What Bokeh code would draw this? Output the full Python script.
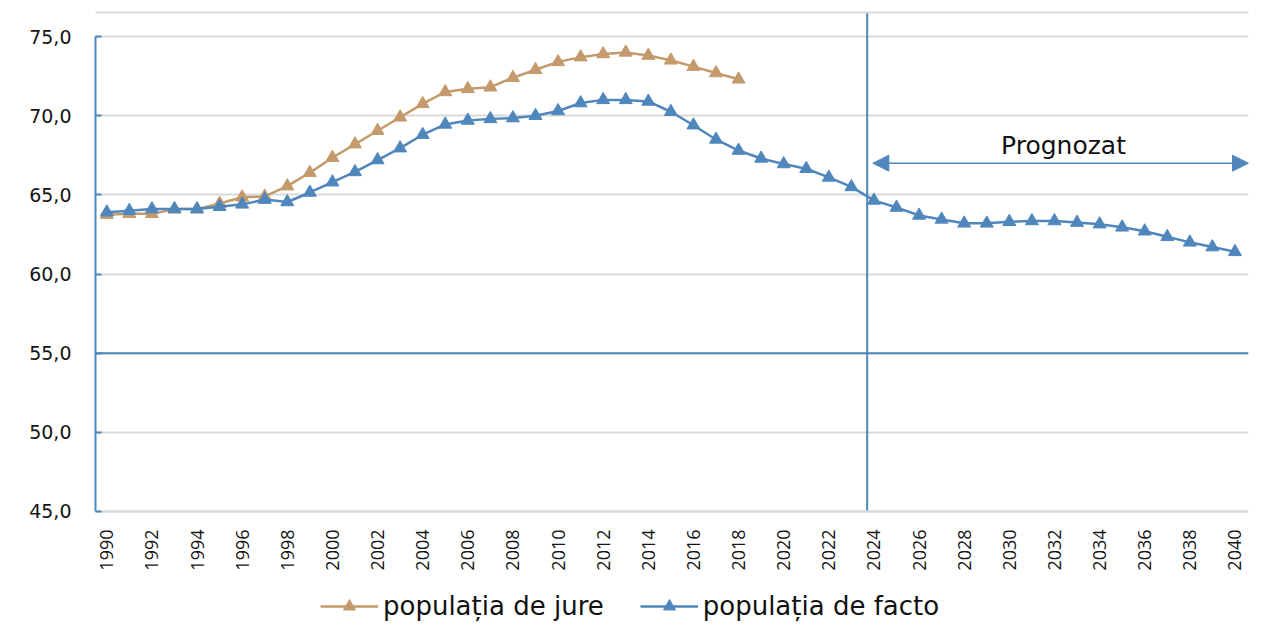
import math
from bokeh.plotting import figure
from bokeh.models import Legend, LegendItem, Span, Arrow, NormalHead, FixedTicker, Label, LinearAxis
from bokeh.embed import file_html
from bokeh.resources import INLINE

# ---- data ----
years_jure = list(range(1990, 2019))
jure = [63.75, 63.8, 63.8, 64.1, 64.1, 64.45, 64.85, 64.9, 65.55, 66.4,
        67.35, 68.2, 69.05, 69.9, 70.75, 71.5, 71.7, 71.8, 72.4, 72.9,
        73.4, 73.7, 73.9, 74.0, 73.8, 73.5, 73.1, 72.7, 72.3]

years_facto = list(range(1990, 2041))
facto = [63.9, 64.0, 64.1, 64.1, 64.1, 64.25, 64.4, 64.7, 64.55, 65.15,
         65.8, 66.45, 67.2, 67.95, 68.8, 69.45, 69.7, 69.8, 69.85, 70.0,
         70.3, 70.8, 71.0, 71.0, 70.9, 70.25, 69.4, 68.5, 67.8, 67.3,
         66.95, 66.65, 66.1, 65.5, 64.65, 64.2, 63.7, 63.45, 63.2, 63.2,
         63.3, 63.35, 63.35, 63.25, 63.15, 62.95, 62.7, 62.35, 62.0, 61.7,
         61.4]

y_ticks = [45, 50, 55, 60, 65, 70, 75]
x_ticks = list(range(1990, 2041, 2))
series_names = ["populația de jure", "populația de facto"]
forecast_label = "Prognozat"

BLUE = "#4F87BD"
TAN = "#C49A6C"
GRID = "#D9D9D9"

Y_MIN, Y_MAX = 45, 75

p = figure(width=1260, height=633, x_range=(1989.5, 2040.6), y_range=(37.29, 76.52),
           output_backend="svg", toolbar_location=None,
           min_border_left=95, min_border_top=12, min_border_right=12, min_border_bottom=0)
p.outline_line_color = None
p.background_fill_color = "white"
p.border_fill_color = "white"

# y axis
p.yaxis.ticker = FixedTicker(ticks=y_ticks)
p.yaxis.bounds = (Y_MIN, Y_MAX)
p.yaxis.axis_line_color = BLUE
p.yaxis.axis_line_width = 2
p.yaxis.major_tick_in = 6
p.yaxis.major_tick_out = 0
p.yaxis.major_tick_line_color = BLUE
p.yaxis.major_tick_line_width = 2
p.yaxis.minor_tick_line_color = None
p.yaxis.major_label_standoff = 24
p.yaxis.major_label_text_font = "DejaVu Sans"
p.yaxis.major_label_text_font_size = "19px"
p.yaxis.major_label_text_color = "#141414"
p.yaxis.major_label_overrides = {t: f"{t:.1f}".replace(".", ",") for t in y_ticks}

# x axis, pinned at the bottom of the value scale
p.xaxis.fixed_location = Y_MIN
p.xaxis.ticker = FixedTicker(ticks=x_ticks)
p.xaxis.major_label_orientation = math.pi / 2
p.xaxis.major_label_standoff = 12
p.xaxis.major_tick_line_color = None
p.xaxis.minor_tick_line_color = None
p.xaxis.axis_line_color = GRID
p.xaxis.axis_line_width = 2
p.xaxis.major_label_text_font = "Open Sans"
p.xaxis.major_label_text_font_size = "18px"
p.xaxis.major_label_text_color = "#141414"

# thin chart-area border along the top
top_axis = LinearAxis(ticker=FixedTicker(ticks=[]), axis_line_color=GRID, axis_line_width=2,
                      major_tick_line_color=None, minor_tick_line_color=None,
                      major_label_text_font_size="0px")
p.add_layout(top_axis, "above")

p.xgrid.visible = False
p.ygrid.ticker = FixedTicker(ticks=y_ticks)
p.ygrid.grid_line_color = GRID
p.ygrid.grid_line_width = 2

# reference lines
p.add_layout(Span(location=55, dimension="width", line_color=BLUE, line_width=2))
p.segment(x0=[2023.7], y0=[Y_MIN], x1=[2023.7], y1=[76.6], line_color=BLUE, line_width=2)

# series
l1 = p.line(years_jure, jure, line_color=TAN, line_width=2.5)
s1 = p.scatter(years_jure, jure, marker="triangle", size=13, fill_color=TAN, line_color=TAN)
l2 = p.line(years_facto, facto, line_color=BLUE, line_width=2.5)
s2 = p.scatter(years_facto, facto, marker="triangle", size=13, fill_color=BLUE, line_color=BLUE)

# forecast arrow + label
p.add_layout(Arrow(x_start=2023.95, y_start=67.0, x_end=2040.6, y_end=67.0,
                   line_color=BLUE, line_width=1.5,
                   start=NormalHead(size=16, fill_color=BLUE, line_color=BLUE),
                   end=NormalHead(size=16, fill_color=BLUE, line_color=BLUE)))
p.add_layout(Label(x=2032.4, y=68.1, text=forecast_label, text_align="center",
                   text_baseline="middle", text_font="DejaVu Sans",
                   text_font_size="25px", text_color="#111111"))

legend = Legend(items=[LegendItem(label=series_names[0], renderers=[l1, s1]),
                       LegendItem(label=series_names[1], renderers=[l2, s2])],
                orientation="horizontal", location=(225, 12),
                label_text_font="DejaVu Sans", label_text_font_size="26px",
                label_text_color="#111111",
                glyph_width=58, glyph_height=30, label_height=30, label_standoff=5,
                spacing=36, padding=0, margin=0,
                border_line_color=None, background_fill_alpha=0)
p.add_layout(legend)

open("out.html", "w").write(file_html(p, INLINE))
